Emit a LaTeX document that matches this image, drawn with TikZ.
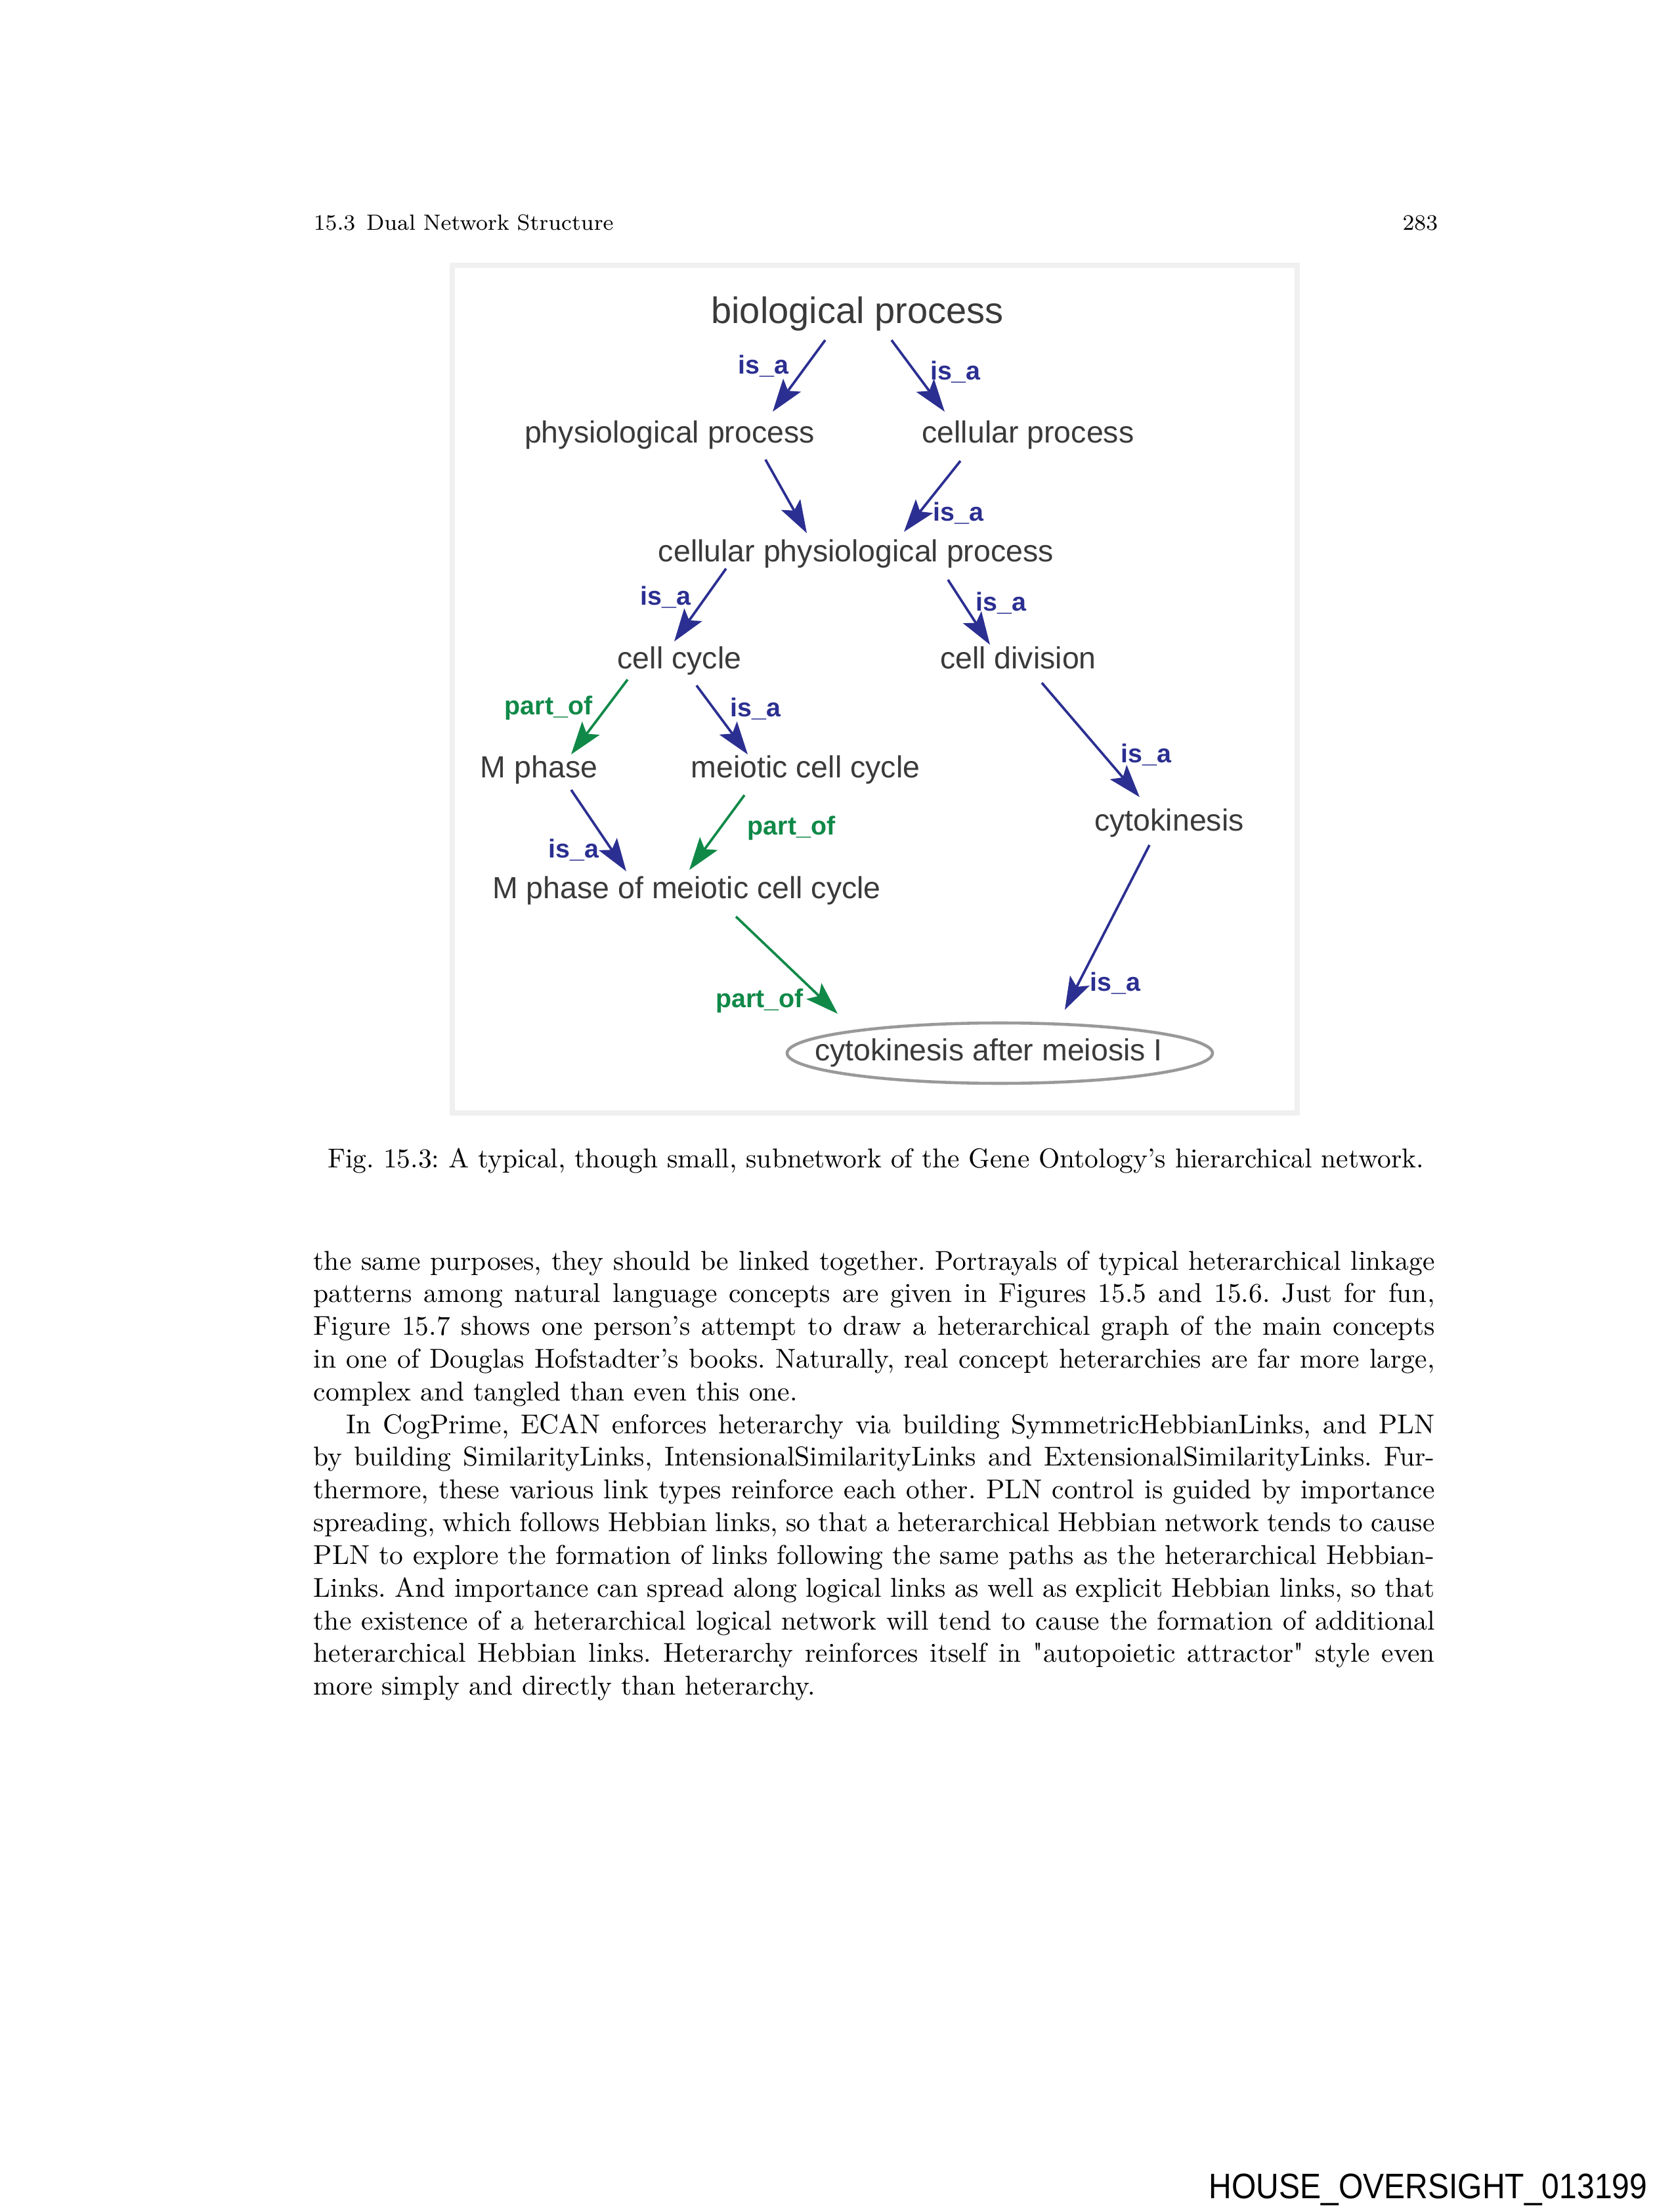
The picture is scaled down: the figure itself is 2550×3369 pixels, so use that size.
\documentclass[tikz,border=0pt]{standalone}
\usepackage{fontspec}
\usepackage{graphicx}
\newfontfamily\diafont{Liberation Sans}
\newfontfamily\plainrm{Latin Modern Roman}
\usetikzlibrary{arrows.meta, positioning, calc}
\definecolor{isablue}{HTML}{2B2F91}
\definecolor{partgreen}{HTML}{108948}
\definecolor{termgray}{HTML}{3A3A3A}
\definecolor{framegray}{HTML}{F0F0F0}

\begin{document}
\begin{tikzpicture}[
  x=0.084667mm, y=-0.084667mm,
  term/.style={font=\diafont\fontsize{11.2}{13}\selectfont, text=termgray, inner sep=0pt, anchor=base},
  root/.style={term, font=\diafont\fontsize{13.5}{16}\selectfont},
  isa/.style={draw=isablue, line width=0.9pt, -{Stealth[length=12pt, width=8pt, inset=2.5pt]}},
  partof/.style={isa, draw=partgreen},
  lbl/.style={font=\diafont\bfseries\fontsize{9.5}{11}\selectfont, inner sep=0pt},
  isalbl/.style={lbl, text=isablue},
  partlbl/.style={lbl, text=partgreen},
  page/.style={font=\fontsize{10}{12}\selectfont\frenchspacing, inner sep=0pt}
]
% page and figure frame
\path[use as bounding box, fill=white] (0,0) rectangle (2550,3369);
\draw[framegray, line width=2pt] (689,404) rectangle (1976,1695);

% running head
\node[page, font=\fontsize{8.1}{10}\selectfont, anchor=base west] (runhead) at (477,350) {15.3\enspace Dual Network Structure};
\node[page, font=\fontsize{8.1}{10}\selectfont, anchor=base east] (pagenum) at (2191,350) {283};

% ontology terms
\node[root] (bio) at (1306,492) {biological process};
\node[term] (phys) at (1020,674) {physiological process};
\node[term] (cellp) at (1566,674) {cellular process};
\node[term] (cpp) at (1304,855) {cellular physiological process};
\node[term] (cc) at (1035,1018) {cell cycle};
\node[term] (cd) at (1551,1018) {cell division};
\node[term] (mph) at (821,1184) {M phase};
\node[term] (mcc) at (1227,1184) {meiotic cell cycle};
\node[term] (cyto) at (1781,1265) {cytokinesis};
\node[term] (mpm) at (1046,1368) {M phase of meiotic cell cycle};
\node[term] (cam) at (1506,1615) {cytokinesis after meiosis I};
\draw[gray!80, line width=1.1pt] ($(cam.center)+(17,1)$) ellipse [x radius=324, y radius=46];

% links
\draw[isa] ($(bio.base)+(-49,26)$) -- ($(phys.base)+(157,-47)$) node[isalbl, pos=0.36, left=6pt] {is\_a};
\draw[isa] ($(bio.base)+(52,26)$) -- ($(cellp.base)+(-127,-47)$) node[isalbl, pos=0.45, right=5pt] {is\_a};
\draw[isa] ($(phys.base)+(146,26)$) -- ($(cpp.base)+(-75,-43)$);
\draw[isa] ($(cellp.base)+(-103,28)$) -- ($(cpp.base)+(73,-45)$) node[isalbl, pos=0.74, right=5pt] {is\_a};
\draw[isa] ($(cpp.base)+(-198,11)$) -- ($(cc.base)+(-8,-41)$) node[isalbl, pos=0.39, left=5pt] {is\_a};
\draw[isa] ($(cpp.base)+(140,28)$) -- ($(cd.base)+(-43,-36)$) node[isalbl, pos=0.36, right=4.3pt] {is\_a};
\draw[partof] ($(cc.base)+(-79,17)$) -- ($(mph.base)+(49,-35)$) node[partlbl, pos=0.38, left=4.6pt] {part\_of};
\draw[isa] ($(cc.base)+(26,26)$) -- ($(mcc.base)+(-88,-35)$) node[isalbl, pos=0.34, right=5.5pt] {is\_a};
\draw[isa] ($(cd.base)+(36,22)$) -- ($(cyto.base)+(-45,-51)$) node[isalbl, pos=0.63, right=6pt] {is\_a};
\draw[isa] ($(mph.base)+(49,19)$) -- ($(mpm.base)+(-92,-41)$) node[isalbl, pos=0.74, left=4.3pt] {is\_a};
\draw[partof] ($(mcc.base)+(-93,27)$) -- ($(mpm.base)+(4,-43)$) node[partlbl, pos=0.44, right=9.6pt] {part\_of};
\draw[partof] ($(mpm.base)+(75,28)$) -- ($(cam.base)+(-230,-71)$) node[partlbl, pos=0.87, left=7.2pt] {part\_of};
\draw[isa] ($(cyto.base)+(-30,22)$) -- ($(cam.base)+(116,-77)$) node[isalbl, pos=0.84, right=3.8pt] {is\_a};

% caption and running text
\node[page, anchor=base] (caption) at (1334,1778) {Fig. 15.3: A typical, though small, subnetwork of the Gene Ontology's hierarchical network.};
\node[page, anchor=north west, text width=411.4pt, align=justify] (body) at (477,1904) {\hyphenpenalty=10000\tolerance=10000
the same purposes, they should be linked together. Portrayals of typical heterarchical linkage\linebreak
patterns among natural language concepts are given in Figures 15.5 and 15.6. Just for fun,\linebreak
Figure 15.7 shows one person's attempt to draw a heterarchical graph of the main concepts\linebreak
in one of Douglas Hofstadter's books. Naturally, real concept heterarchies are far more large,\linebreak
complex and tangled than even this one.\par
\hspace*{12pt}In CogPrime, ECAN enforces heterarchy via building SymmetricHebbianLinks, and PLN\linebreak
by building SimilarityLinks, IntensionalSimilarityLinks and ExtensionalSimilarityLinks. Fur-\linebreak
thermore, these various link types reinforce each other. PLN control is guided by importance\linebreak
spreading, which follows Hebbian links, so that a heterarchical Hebbian network tends to cause\linebreak
PLN to explore the formation of links following the same paths as the heterarchical Hebbian-\linebreak
Links. And importance can spread along logical links as well as explicit Hebbian links, so that\linebreak
the existence of a heterarchical logical network will tend to cause the formation of additional\linebreak
heterarchical Hebbian links. Heterarchy reinforces itself in {\plainrm"}autopoietic attractor{\plainrm"} style even\linebreak
more simply and directly than heterarchy.};

% archive stamp
\node[anchor=base east, inner sep=0pt] (stamp) at (2510,3348) {\scalebox{0.89}[1]{\diafont\fontsize{13}{15}\selectfont HOUSE\_OVERSIGHT\_013199}};
\end{tikzpicture}
\end{document}
